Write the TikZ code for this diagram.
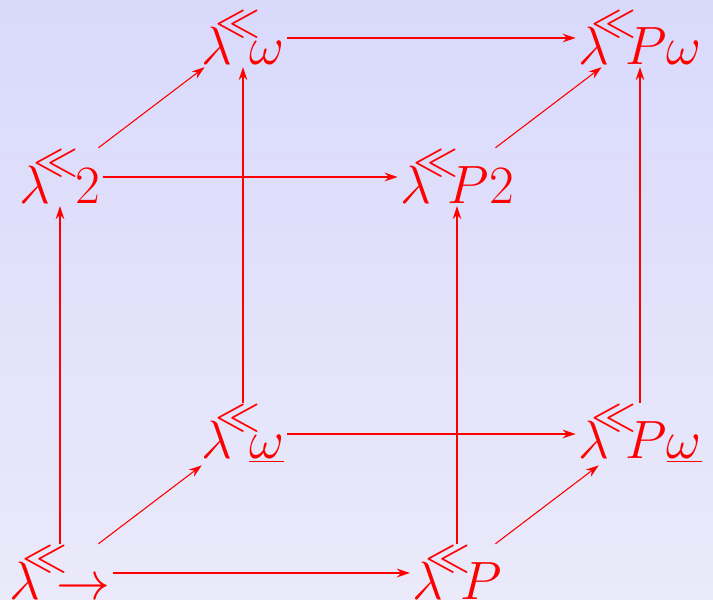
\documentclass[tikz,border=0pt]{standalone}
\usetikzlibrary{arrows.meta}

\definecolor{bgtop}{RGB}{217,217,252}
\definecolor{bgbot}{RGB}{234,234,250}
\newcommand{\lcube}[2][-4mu]{\lambda^{\mkern-7mu\raisebox{.4ex}{$\scriptstyle\ll$}}\mkern#1#2}

\begin{document}
\begin{tikzpicture}[x=0.0162cm, y=0.0162cm,
    >={Stealth[length=6pt,width=4pt]},
    sys/.style={font=\Huge, text=red, inner sep=1pt},
    edge/.style={->, red, line width=0.92pt},
    deep/.style={->, red, line width=0.5pt}]

  \shade[top color=bgtop, bottom color=bgbot] (0,0) rectangle (713,600);
  \useasboundingbox (0,0) rectangle (713,600);

  % front face
  \node[sys] (lto) at (60,27)   {$\lcube[-9mu]{\to}$};
  \node[sys] (lP)  at (457,27)  {$\lcube{P}$};
  \node[sys] (l2)  at (60,423)  {$\lcube[-1.3mu]{2}$};
  \node[sys] (lP2) at (457,423) {$\lcube{P2}$};

  % back face
  \begin{scope}[shift={(183,139)}]
    \node[sys] (lwu)  at (60,27)   {$\lcube{\underline{\omega}}$};
    \node[sys] (lPwu) at (457,27)  {$\lcube{P\underline{\omega}}$};
    \node[sys] (lw)   at (60,423)  {$\lcube{\omega}$};
    \node[sys] (lPw)  at (457,423) {$\lcube{P\omega}$};
  \end{scope}

  \draw[edge] (lto) -- (lP);
  \draw[edge] (lto) -- (l2);
  \draw[edge] (lP) -- (lP2);
  \draw[edge] (l2) -- (lP2);

  \draw[edge] (lwu) -- (lPwu);
  \draw[edge] (lwu) -- (lw);
  \draw[edge] (lPwu) -- (lPw);
  \draw[edge] (lw) -- (lPw);

  \draw[deep] (lto) -- (lwu);
  \draw[deep] (lP) -- (lPwu);
  \draw[deep] (l2) -- (lw);
  \draw[deep] (lP2) -- (lPw);

\end{tikzpicture}
\end{document}
